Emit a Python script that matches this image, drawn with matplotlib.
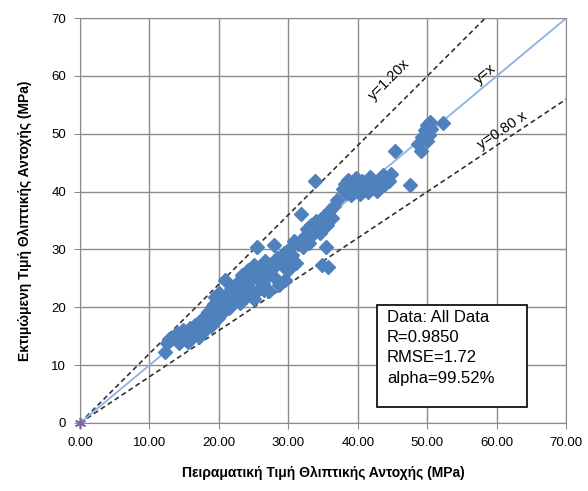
import matplotlib.pyplot as plt
from matplotlib.patches import Rectangle
import numpy as np

plt.rcParams['font.family'] = ['Liberation Sans', 'DejaVu Sans']

# experimental (x) vs predicted (y) compressive strength, MPa
exp_vals = [
    12.3, 12.5, 12.8, 13.5, 13.9, 14.2, 14.5, 14.8, 15.1, 15.4, 15.6, 15.9, 16.2,
    16.5, 16.8, 17.1, 17.3, 17.6, 17.9, 18.2, 18.5, 18.8, 19.0, 19.3, 19.6, 19.9,
    19.5, 20.0, 20.3, 20.6, 20.9, 21.2, 21.5, 21.8, 22.1, 22.4, 22.7, 23.0, 23.3,
    23.6, 23.9, 24.2, 24.5, 24.8, 25.1, 25.4, 25.5, 25.7, 26.0, 26.3, 26.6, 26.9,
    27.2, 27.5, 27.9, 28.1, 28.4, 28.7, 29.0, 29.3, 29.6, 29.9, 30.2, 30.5, 30.8,
    31.1, 31.4, 31.8, 32.1, 32.4, 32.7, 33.0, 33.3, 33.6, 33.8, 34.0, 34.3, 34.6,
    34.9, 35.2, 35.4, 35.6, 35.7, 36.0, 36.3, 36.6, 37.0,
    22.0, 23.5, 24.0, 25.0, 26.5, 27.0, 28.0, 29.5, 30.0, 24.6, 21.0, 19.0, 20.5,
    37.8, 38.1, 38.3, 38.6, 38.9, 39.2, 39.5, 39.8, 40.1, 40.3, 40.6, 40.9, 41.2,
    41.5, 41.8, 42.1, 42.4, 42.7, 43.0, 43.3, 43.6, 43.9, 44.2, 44.5, 44.8, 39.0,
    40.0, 42.0,
    45.3, 47.5, 49.1,
    48.6, 49.3, 49.6, 50.0, 50.2, 50.6, 52.3, 49.9, 50.4,
]
pred_vals = [
    12.2, 13.8, 14.5, 14.8, 15.5, 13.9, 15.2, 16.0, 14.6, 15.8, 14.0, 16.5, 15.1,
    17.0, 15.6, 14.8, 16.9, 18.0, 15.9, 17.4, 19.2, 16.8, 18.3, 20.5, 19.0, 18.2,
    21.8, 22.5, 20.0, 21.4, 24.7, 22.0, 19.8, 23.1, 21.3, 24.0, 22.4, 20.8, 25.6,
    23.2, 21.7, 26.4, 24.6, 22.6, 27.3, 25.2, 30.4, 23.1, 26.8, 24.2, 28.0, 25.5,
    22.8, 27.2, 30.8, 25.0, 28.6, 23.9, 27.9, 29.4, 26.6, 28.3, 30.2, 29.0, 31.5,
    27.6, 30.9, 36.1, 30.4, 32.4, 33.6, 31.2, 34.2, 32.6, 41.8, 35.0, 33.4, 32.8,
    27.3, 35.8, 30.4, 34.2, 27.0, 36.8, 35.4, 37.5, 38.6,
    23.5, 21.9, 23.8, 21.5, 23.0, 26.1, 27.0, 24.8, 26.5, 25.9, 21.0, 20.0, 19.0,
    40.5, 41.3, 39.8, 42.0, 40.6, 41.5, 40.0, 42.3, 40.8, 39.6, 41.9, 40.3, 41.1,
    39.9, 42.5, 40.7, 41.6, 40.2, 42.1, 41.0, 42.8, 41.4, 42.4, 41.9, 43.1, 39.4,
    40.2, 41.3,
    47.0, 41.1, 47.0,
    48.3, 49.4, 50.6, 51.5, 49.8, 50.9, 51.8, 48.8, 52.0,
]

stats_lines = ["Data: All Data", "R=0.9850", "RMSE=1.72", "alpha=99.52%"]
x_ticks = np.arange(0, 71, 10)

fig = plt.figure(figsize=(5.88, 4.91), dpi=100)
ax = fig.add_axes([0.136, 0.1385, 0.827, 0.8245])

line_x = np.array([0, 70])
ax.plot(line_x, 1.2 * line_x, color='#333333', lw=1.2, ls=(0, (3, 2)), zorder=2)
ax.plot(line_x, 0.8 * line_x, color='#333333', lw=1.2, ls=(0, (3, 2)), zorder=2)
ax.plot(line_x, line_x, color='#8db3e2', lw=1.3, zorder=2)

ax.plot(exp_vals, pred_vals, ls='none', marker='D', ms=7, color='#4f81bd',
        mec='#4f81bd', zorder=3)
ax.plot([0], [0], ls='none', marker=(6, 2, 0), ms=8, mew=1.2, color='#8064a2',
        zorder=4, clip_on=False)

ax.text(44.6, 59.4, 'y=1.20x', rotation=45, fontsize=10.5, ha='center', va='center')
ax.text(58.3, 60.3, 'y=x', rotation=40, fontsize=10.5, ha='center', va='center')
ax.text(60.8, 50.5, 'y=0.80 x', rotation=34, fontsize=10.5, ha='center', va='center')

ax.add_patch(Rectangle((42.8, 2.8), 21.6, 17.6, fc='white', ec='black', lw=1.2, zorder=5))
ax.text(44.2, 19.6, "\n".join(stats_lines), fontsize=12, va='top', ha='left',
        linespacing=1.45, zorder=6)

ax.set_xlim(0, 70)
ax.set_ylim(0, 70)
ax.set_xticks(x_ticks)
ax.set_yticks(x_ticks)
ax.set_xticklabels([f"{v:.2f}" for v in x_ticks], fontsize=9.5)
ax.set_yticklabels([f"{v:d}" for v in x_ticks], fontsize=9.5)
ax.grid(True, color='#8c8c8c', lw=1)
ax.set_axisbelow(True)
for sp in ax.spines.values():
    sp.set_color('#8c8c8c')
ax.tick_params(length=4, color='#8c8c8c', pad=6)

ax.set_xlabel('Πειραματική Τιμή Θλιπτικής Αντοχής (MPa)', fontsize=10,
              fontweight='bold', labelpad=12)
ax.set_ylabel('Εκτιμώμενη Τιμή Θλιπτικής Αντοχής (MPa)', fontsize=10,
              fontweight='bold', labelpad=14)

fig.savefig('out.png', dpi=100)
